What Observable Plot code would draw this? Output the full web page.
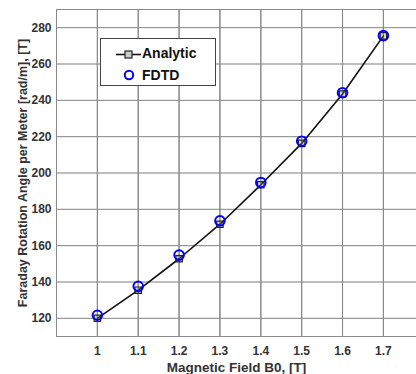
<!DOCTYPE html>
<html>
<head>
<meta charset="utf-8">
<script src="https://cdn.jsdelivr.net/npm/d3@7"></script>
<script src="https://cdn.jsdelivr.net/npm/@observablehq/plot@0.6"></script>
<style>
  html, body { margin: 0; padding: 0; background: #fff; }
  #wrap { position: relative; width: 416px; height: 374px; font-family: "Liberation Sans", Arial, sans-serif; }
  #legend { position: absolute; left: 100px; top: 38px; width: 116px; height: 48px; border: 1px solid #444; background: #fff; box-sizing: border-box; }
  .lrow { position: absolute; left: 0; font-weight: bold; font-size: 14px; color: #111; }
</style>
</head>
<body>
<div id="wrap"></div>
<script>
const fieldB0 = [1, 1.1, 1.2, 1.3, 1.4, 1.5, 1.6, 1.7];
const analytic = [120, 135.5, 152.8, 171.8, 193.5, 216.3, 243.5, 275.5];
const fdtd = [121.7, 137.6, 154.8, 173.7, 194.8, 217.5, 244.2, 275.6];
const xTicks = [1, 1.1, 1.2, 1.3, 1.4, 1.5, 1.6, 1.7];
const yTicks = [120, 140, 160, 180, 200, 220, 240, 260, 280];
const seriesNames = ["Analytic", "FDTD"];
const xLabel = "Magnetic Field B0, [T]";
const yLabel = "Faraday Rotation Angle per Meter [rad/m], [T]";

const analyticData = fieldB0.map((b, i) => ({b, v: analytic[i]}));
const fdtdData = fieldB0.map((b, i) => ({b, v: fdtd[i]}));

const xDomain = [0.9, 1.781];
const yDomain = [110, 290];

const chart = Plot.plot({
  width: 416,
  height: 374,
  marginLeft: 56,
  marginRight: 0,
  marginTop: 9,
  marginBottom: 38,
  style: {fontFamily: "Liberation Sans, Arial, sans-serif", background: "#fff"},
  x: {domain: xDomain},
  y: {domain: yDomain},
  marks: [
    Plot.gridX(xTicks, {stroke: "#e3e3e3", strokeOpacity: 1}),
    Plot.gridY(yTicks, {stroke: "#e3e3e3", strokeOpacity: 1}),
    Plot.ruleX([xDomain[0]], {stroke: "#8a8a8a", strokeWidth: 1}),
    Plot.ruleY([yDomain[0]], {stroke: "#8a8a8a", strokeWidth: 1}),
    Plot.ruleY([yDomain[1]], {stroke: "#8a8a8a", strokeWidth: 1}),
    Plot.tickX(xTicks, {x: d => d, y1: yDomain[0], y2: yDomain[0] + 1.6, stroke: "#8a8a8a"}),
    Plot.tickX(xTicks, {x: d => d, y1: yDomain[1], y2: yDomain[1] - 1.6, stroke: "#8a8a8a"}),
    Plot.tickY(yTicks, {y: d => d, x1: xDomain[0], x2: xDomain[0] + 0.008, stroke: "#8a8a8a"}),
    Plot.axisX(xTicks, {tickSize: 0, tickPadding: 10, fontSize: 12, fontWeight: "bold", fill: "#333", tickFormat: d => String(d), label: null}),
    Plot.axisY(yTicks, {tickSize: 0, tickPadding: 5, fontSize: 12, fontWeight: "bold", fill: "#333", label: null}),
    Plot.text([xLabel], {frameAnchor: "bottom", lineAnchor: "middle", dy: 31, fontSize: 13.5, fontWeight: "bold", fill: "#333"}),
    Plot.text([yLabel], {frameAnchor: "left", textAnchor: "middle", lineAnchor: "middle", dx: -34, rotate: -90, fontSize: 12.5, fontWeight: "bold", fill: "#333"}),
    Plot.line(analyticData, {x: "b", y: "v", stroke: "#111", strokeWidth: 1.6}),
    Plot.dot(analyticData, {x: "b", y: "v", symbol: "square", r: 3.6, stroke: "#222", strokeWidth: 1.2, fill: "#888", fillOpacity: 0.3}),
    Plot.dot(fdtdData, {x: "b", y: "v", r: 4.8, stroke: "#0000ff", strokeWidth: 2, fill: "none"})
  ]
});

const wrap = document.getElementById("wrap");
wrap.appendChild(chart);

const legend = document.createElement("div");
legend.id = "legend";
legend.innerHTML = `
  <svg width="40" height="45" style="position:absolute;left:0;top:0">
    <line x1="15" x2="40" y1="15.5" y2="15.5" stroke="#111" stroke-width="1.6"/>
    <rect x="24" y="12" width="7" height="7" fill="#ccc" stroke="#222" stroke-width="1.2"/>
    <circle cx="28" cy="36" r="4.2" fill="none" stroke="#0000ff" stroke-width="2"/>
  </svg>
  <div class="lrow" style="left:41px;top:6px">${seriesNames[0]}</div>
  <div class="lrow" style="left:41px;top:28px">${seriesNames[1]}</div>`;
wrap.appendChild(legend);
</script>
</body>
</html>
